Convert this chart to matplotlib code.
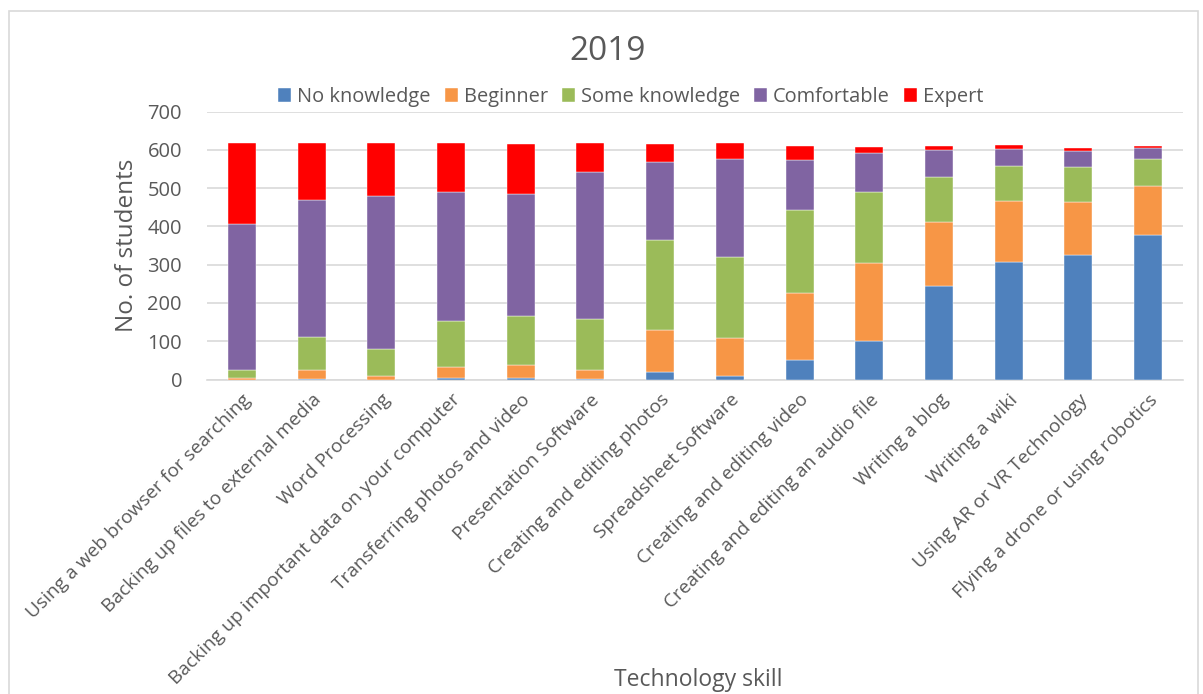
import matplotlib
matplotlib.use("Agg")
import matplotlib.pyplot as plt
import numpy as np
from matplotlib.patches import Rectangle

categories = [
    "Using a web browser for searching",
    "Backing up files to external media",
    "Word Processing",
    "Backing up important data on your computer",
    "Transferring photos and video",
    "Presentation Software",
    "Creating and editing photos",
    "Spreadsheet Software",
    "Creating and editing video",
    "Creating and editing an audio file",
    "Writing a blog",
    "Writing a wiki",
    "Using AR or VR Technology",
    "Flying a drone or using robotics",
]
series_names = ["No knowledge", "Beginner", "Some knowledge", "Comfortable", "Expert"]
no_knowledge   = [0, 1, 0, 5, 3, 1, 19, 8, 51, 101, 244, 306, 326, 377]
beginner       = [5, 23, 10, 27, 34, 25, 111, 100, 174, 203, 168, 161, 138, 129]
some_knowledge = [19, 86, 69, 122, 130, 132, 235, 213, 217, 187, 118, 91, 91, 70]
comfortable    = [381, 359, 401, 335, 318, 384, 204, 255, 132, 100, 70, 45, 43, 28]
expert         = [212, 149, 137, 128, 129, 75, 47, 41, 36, 17, 11, 10, 7, 7]
colors = ["#4f81bd", "#f79646", "#9bbb59", "#8064a2", "#ff0000"]
yticks = [0, 100, 200, 300, 400, 500, 600, 700]

plt.rcParams['font.family'] = ['Open Sans', 'DejaVu Sans']
txt = "#595959"

fig = plt.figure(figsize=(12.03, 6.94), dpi=100)
fig.patches.append(Rectangle((9/1203, -0.01), (1198-9)/1203, 1 - 11/694 + 0.01,
                             transform=fig.transFigure, fill=False,
                             edgecolor="#d9d9d9", linewidth=1.2))
ax = fig.add_axes([207/1203, 1 - 379.5/694, (1183-207)/1203, (379.5-111.5)/694])

x = np.arange(len(categories))
bottom = np.zeros(len(categories))
for name, vals, c in zip(series_names,
                         [no_knowledge, beginner, some_knowledge, comfortable, expert],
                         colors):
    v = np.array(vals, dtype=float)
    ax.bar(x, v, bottom=bottom, width=0.4, color=c, label=name, zorder=3,
           edgecolor="white", linewidth=0.3)
    bottom += v

ax.set_ylim(0, 700)
ax.set_xlim(-0.5, len(categories) - 0.5)
ax.set_yticks(yticks)
ax.set_yticklabels([str(t) for t in yticks], fontsize=14.5, color=txt)
ax.set_xticks(x)
ax.set_xticklabels(categories, rotation=45, ha="right", rotation_mode="anchor",
                   fontsize=13.8, color=txt)
ax.tick_params(axis="both", length=0)
ax.tick_params(axis="y", pad=18)
ax.tick_params(axis="x", pad=8)
ax.yaxis.grid(True, color="#d9d9d9", linewidth=1.2, zorder=0)
ax.set_axisbelow(True)
for s in ["top", "right", "left"]:
    ax.spines[s].set_visible(False)
ax.spines["bottom"].set_color("#d9d9d9")
ax.spines["bottom"].set_linewidth(1.2)

ax.set_ylabel("No. of students", fontsize=17.5, color=txt, labelpad=6)
fig.text(698/1203, 1 - 680/694, "Technology skill", fontsize=16.5, color=txt,
         ha="center", va="center")
fig.text(608/1203, 1 - 52/694, "2019", fontsize=24, color=txt,
         ha="center", va="center")

leg = fig.legend(loc="center", bbox_to_anchor=(631/1203, 1 - 97/694), ncol=5,
                 frameon=False, fontsize=14.4, handlelength=0.65, handleheight=0.65,
                 handletextpad=0.3, columnspacing=0.7)
for t in leg.get_texts():
    t.set_color(txt)

fig.savefig("out.png", dpi=100)
